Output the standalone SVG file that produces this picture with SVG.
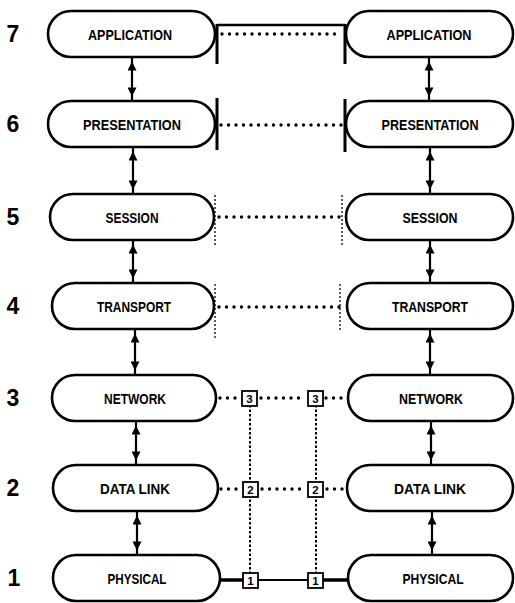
<svg xmlns="http://www.w3.org/2000/svg" width="515" height="603" viewBox="0 0 515 603">
<style>
.node rect{fill:#fff;stroke:#000;stroke-width:2.6}
.lbl{font-family:"Liberation Sans",Arial,sans-serif;font-weight:bold;font-size:15px;text-anchor:middle;fill:#000}
.num{font-family:"Liberation Sans",Arial,sans-serif;font-weight:bold;font-size:23px;text-anchor:middle;fill:#000}
.arr{stroke:#000;stroke-width:2.2;fill:none;marker-start:url(#ah);marker-end:url(#ah)}
.dots{stroke:#000;stroke-width:3.4;stroke-linecap:round;stroke-dasharray:0 7.5;fill:none}
.vdots{stroke:#000;stroke-width:2;stroke-dasharray:2.5 2;fill:none}
.bar{stroke:#000;stroke-width:3;fill:none}
.tbar{stroke:#000;stroke-width:1.3;stroke-dasharray:2 2;fill:none}
.solid{stroke:#000;fill:none}
.sb rect{fill:#fff;stroke:#000;stroke-width:1.8}
.sb text{font-family:"Liberation Sans",Arial,sans-serif;font-weight:bold;font-size:11.5px;text-anchor:middle;fill:#000}
</style>
<defs>
<marker id="ah" viewBox="0 0 10 10" refX="15" refY="5" markerWidth="11" markerHeight="9" markerUnits="userSpaceOnUse" orient="auto-start-reverse">
<path d="M0,0 L10,5 L0,10 z" fill="#000"/>
</marker>
</defs>

<g id="numbers">
<text class="num" x="13" y="42">7</text>
<text class="num" x="13" y="132">6</text>
<text class="num" x="13" y="225">5</text>
<text class="num" x="13" y="314">4</text>
<text class="num" x="13" y="406">3</text>
<text class="num" x="13" y="496">2</text>
<text class="num" x="14" y="586">1</text>
</g>

<g id="left-application" class="node"><rect x="48" y="11" width="167" height="46" rx="23"/><text class="lbl" x="130" y="39.5" textLength="84" lengthAdjust="spacingAndGlyphs">APPLICATION</text></g>
<g id="left-presentation" class="node"><rect x="48" y="101" width="167" height="46" rx="23"/><text class="lbl" x="132" y="129.5" textLength="98" lengthAdjust="spacingAndGlyphs">PRESENTATION</text></g>
<g id="left-session" class="node"><rect x="50" y="194" width="164" height="46" rx="23"/><text class="lbl" x="132" y="222.5" textLength="53" lengthAdjust="spacingAndGlyphs">SESSION</text></g>
<g id="left-transport" class="node"><rect x="52" y="283" width="162" height="46" rx="23"/><text class="lbl" x="134" y="311.5" textLength="74" lengthAdjust="spacingAndGlyphs">TRANSPORT</text></g>
<g id="left-network" class="node"><rect x="52" y="375" width="164" height="46" rx="23"/><text class="lbl" x="135" y="403.5" textLength="62" lengthAdjust="spacingAndGlyphs">NETWORK</text></g>
<g id="left-datalink" class="node"><rect x="53" y="465" width="165" height="46" rx="23"/><text class="lbl" x="135" y="493.5" textLength="70" lengthAdjust="spacingAndGlyphs">DATA LINK</text></g>
<g id="left-physical" class="node"><rect x="53" y="555" width="167" height="46" rx="23"/><text class="lbl" x="137" y="583.5" textLength="59" lengthAdjust="spacingAndGlyphs">PHYSICAL</text></g>

<g id="right-application" class="node"><rect x="346" y="11" width="167" height="46" rx="23"/><text class="lbl" x="429" y="39.5" textLength="85" lengthAdjust="spacingAndGlyphs">APPLICATION</text></g>
<g id="right-presentation" class="node"><rect x="346" y="101" width="167" height="46" rx="23"/><text class="lbl" x="430" y="129.5" textLength="97" lengthAdjust="spacingAndGlyphs">PRESENTATION</text></g>
<g id="right-session" class="node"><rect x="346" y="194" width="167" height="46" rx="23"/><text class="lbl" x="430" y="222.5" textLength="55" lengthAdjust="spacingAndGlyphs">SESSION</text></g>
<g id="right-transport" class="node"><rect x="347" y="283" width="166" height="46" rx="23"/><text class="lbl" x="430" y="311.5" textLength="76" lengthAdjust="spacingAndGlyphs">TRANSPORT</text></g>
<g id="right-network" class="node"><rect x="348" y="375" width="165" height="46" rx="23"/><text class="lbl" x="431" y="403.5" textLength="64" lengthAdjust="spacingAndGlyphs">NETWORK</text></g>
<g id="right-datalink" class="node"><rect x="347" y="465" width="166" height="46" rx="23"/><text class="lbl" x="430" y="493.5" textLength="72" lengthAdjust="spacingAndGlyphs">DATA LINK</text></g>
<g id="right-physical" class="node"><rect x="348" y="555" width="165" height="46" rx="23"/><text class="lbl" x="433" y="583.5" textLength="61" lengthAdjust="spacingAndGlyphs">PHYSICAL</text></g>

<g id="connectors">
<path class="arr" d="M132,57 V101"/>
<path class="arr" d="M133,147 V194"/>
<path class="arr" d="M133,240 V283"/>
<path class="arr" d="M135,329 V375"/>
<path class="arr" d="M136,421 V465"/>
<path class="arr" d="M137,511 V555"/>
<path class="arr" d="M429,57 V101"/>
<path class="arr" d="M430,147 V194"/>
<path class="arr" d="M430,240 V283"/>
<path class="arr" d="M430,329 V375"/>
<path class="arr" d="M431,421 V465"/>
<path class="arr" d="M432,511 V555"/>

<path class="solid" stroke-width="2.6" d="M217,25 H345"/>
<path class="bar" d="M217,24 V64 M345,24 V64"/>
<path class="dots" d="M222,34 H342"/>
<path class="bar" d="M217,98 V150 M345,99 V152"/>
<path class="dots" d="M221,125 H342"/>
<path class="tbar" d="M215,195 V245 M342,195 V245"/>
<path class="dots" d="M219,217 H341"/>
<path class="tbar" d="M215,284 V338 M340,284 V330"/>
<path class="dots" d="M219,307 H344"/>
<path class="dots" d="M220,398 H239 M261,398 H305 M326,398 H346"/>
<path class="dots" d="M221,489 H241 M262,489 H306 M327,489 H345"/>
<path class="solid" stroke-width="3.5" d="M220,580 H243 M323,580 H348"/>
<path class="solid" stroke-width="2" d="M258,580 H308"/>
<path class="vdots" d="M250,405 V573 M316,405 V573"/>
</g>

<g id="relay-boxes" class="sb">
<g id="relay-3a"><rect x="242" y="391" width="15" height="15"/><text x="249.5" y="402.5">3</text></g>
<g id="relay-3b"><rect x="308" y="391" width="15" height="15"/><text x="315.5" y="402.5">3</text></g>
<g id="relay-2a"><rect x="243" y="482" width="15" height="15"/><text x="250.5" y="493.5">2</text></g>
<g id="relay-2b"><rect x="308" y="482" width="15" height="15"/><text x="315.5" y="493.5">2</text></g>
<g id="relay-1a"><rect x="243" y="573" width="15" height="15"/><text x="250.5" y="584.5">1</text></g>
<g id="relay-1b"><rect x="308" y="573" width="15" height="15"/><text x="315.5" y="584.5">1</text></g>
</g>
</svg>
